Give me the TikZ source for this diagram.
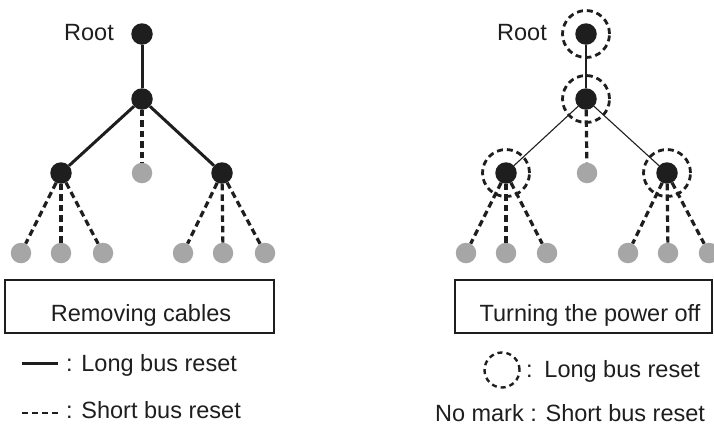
\documentclass[tikz,border=0pt]{standalone}
\usepackage{fontspec}
\setmainfont{Liberation Sans}
\definecolor{leafgray}{RGB}{166,166,166}
\definecolor{ink}{RGB}{30,30,30}
\begin{document}
\begin{tikzpicture}[x=1pt,y=-1pt,
  bnode/.style={circle,fill=ink,draw=none,minimum size=21.5pt,inner sep=0pt},
  gnode/.style={circle,fill=leafgray,draw=none,minimum size=20.5pt,inner sep=0pt},
  ring/.style={circle,draw=ink,line width=2.8pt,dash pattern=on 6pt off 4pt,minimum size=47pt,inner sep=0pt},
  longline/.style={draw=ink,line width=3pt},
  thinline/.style={draw=ink,line width=1.1pt},
  shortline/.style={draw=ink,line width=3.2pt,dash pattern=on 6.5pt off 4pt},
  caption/.style={draw=ink,line width=1.2pt,minimum width=269pt,minimum height=53pt,inner sep=0pt},
  txt/.style={font={\fontsize{23.5}{28}\selectfont},text=ink,inner sep=0pt}]
\useasboundingbox (0,0) rectangle (714,429);
\clip (0,0) rectangle (714,429);

% ---------- left tree ----------
\node[bnode] (a0) at (142,34) {};
\node[bnode] (a1) at (142,99) {};
\node[bnode] (a2) at (61,173) {};
\node[gnode] (a3) at (142,173) {};
\node[bnode] (a4) at (222,173) {};
\node[gnode] (a5) at (21,253) {};
\node[gnode] (a6) at (61,253) {};
\node[gnode] (a7) at (103,253) {};
\node[gnode] (a8) at (183,253) {};
\node[gnode] (a9) at (223,253) {};
\node[gnode] (a10) at (265,253) {};
\node[txt,anchor=base west] (aroot) at (64,40) {Root};

\draw[longline] (a0) -- (a1);
\draw[longline] (a1) -- (a2);
\draw[longline] (a1) -- (a4);
\draw[shortline] (a1) -- (a3);
\draw[shortline] (a2) -- (a5);
\draw[shortline] (a2) -- (a6);
\draw[shortline] (a2) -- (a7);
\draw[shortline] (a4) -- (a8);
\draw[shortline] (a4) -- (a9);
\draw[shortline] (a4) -- (a10);

\node[caption] (abox) at (139.5,306.5) {};
\node[txt,anchor=base] (acap) at (141,321) {Removing cables};

\coordinate (al1) at (22,363);
\coordinate (al2) at (58,363);
\draw[longline] (al1) -- (al2);
\node[txt,anchor=base west] (along) at (66,371) {: Long bus reset};
\coordinate (as1) at (22,413);
\coordinate (as2) at (58,413);
\draw[draw=ink,line width=2.2pt,dash pattern=on 6pt off 4pt] (as1) -- (as2);
\node[txt,anchor=base west] (ashort) at (66,418) {: Short bus reset};

% ---------- right tree ----------
\node[bnode] (b0) at (586,34) {};
\node[bnode] (b1) at (586,99) {};
\node[bnode] (b2) at (506,173) {};
\node[gnode] (b3) at (587,173) {};
\node[bnode] (b4) at (667,173) {};
\node[gnode] (b5) at (466,253) {};
\node[gnode] (b6) at (506,253) {};
\node[gnode] (b7) at (547,253) {};
\node[gnode] (b8) at (628,253) {};
\node[gnode] (b9) at (668,253) {};
\node[gnode] (b10) at (709,253) {};
\node[txt,anchor=base west] (broot) at (497,40) {Root};

\draw[thinline] (b0) -- (b1);
\draw[thinline] (b1) -- (b2);
\draw[thinline] (b1) -- (b4);
\draw[shortline] (b1) -- (b3);
\draw[shortline] (b2) -- (b5);
\draw[shortline] (b2) -- (b6);
\draw[shortline] (b2) -- (b7);
\draw[shortline] (b4) -- (b8);
\draw[shortline] (b4) -- (b9);
\draw[shortline] (b4) -- (b10);

\node[ring] (r0) at (b0) {};
\node[ring] (r1) at (b1) {};
\node[ring] (r2) at (b2) {};
\node[ring] (r4) at (b4) {};

\node[caption,minimum width=257pt] (bbox) at (583.5,306.5) {};
\node[txt,anchor=base] (bcap) at (590,321) {Turning the power off};

\node[ring,minimum size=35pt,line width=2.4pt,dash pattern=on 5pt off 4pt] (rleg) at (502,370) {};
\node[txt,anchor=base west] (blong) at (526,377) {:\hspace{3pt} Long bus reset};
\node[txt,anchor=base] (bshort) at (570,421) {No mark : Short bus reset};
\end{tikzpicture}
\end{document}
